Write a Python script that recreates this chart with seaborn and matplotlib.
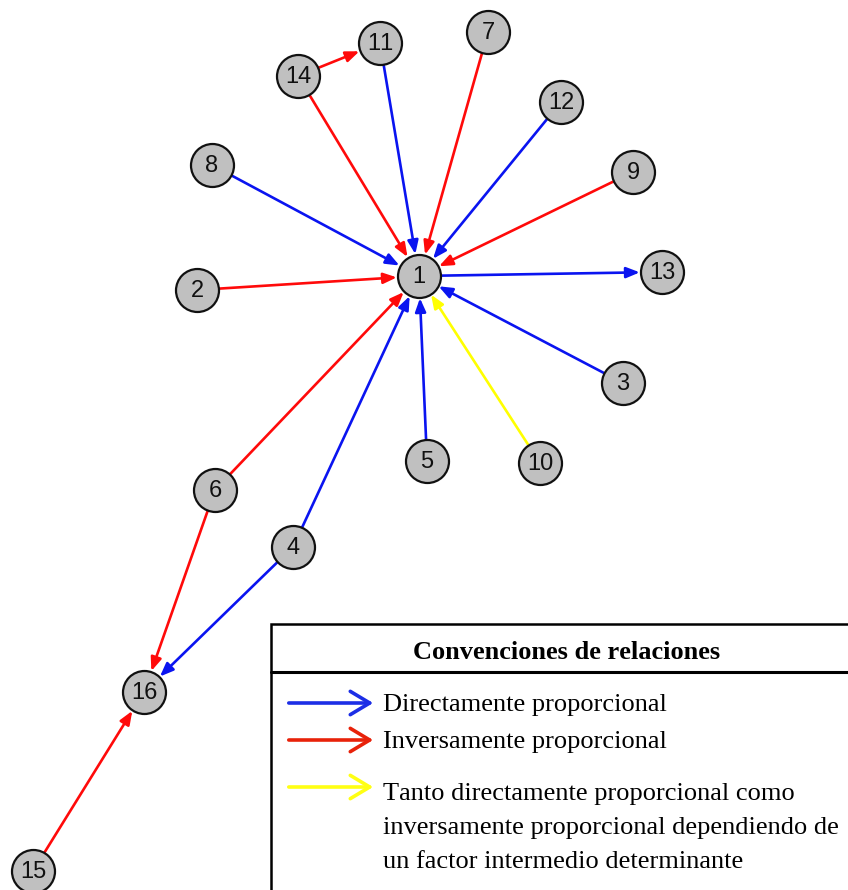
import matplotlib
matplotlib.use("Agg")
import matplotlib.pyplot as plt
import seaborn as sns
import pandas as pd
from matplotlib.patches import Rectangle, FancyArrowPatch

sns.set_theme(style="white")
plt.rcParams["text.kerning_factor"] = 6

# Nodes (positions, pixel-based layout coordinates)
node_ids = [1, 2, 3, 4, 5, 6, 7, 8, 9, 10, 11, 12, 13, 14, 15, 16]
node_x = [419, 197, 623, 293, 427, 215, 488, 212, 633, 540, 380, 561, 662, 298, 33, 144]
node_y = [276, 290, 383, 547, 461, 490, 32, 165, 172, 463, 43, 102, 272, 76, 871, 692]

# Edges: source -> target, relation type
edge_src = [8, 11, 14, 14, 7, 12, 9, 2, 1, 3, 10, 5, 4, 6, 6, 4, 15]
edge_dst = [1, 1, 1, 11, 1, 1, 1, 1, 13, 1, 1, 1, 1, 1, 16, 16, 16]
edge_type = ["D", "D", "I", "I", "I", "D", "I", "I", "D", "D", "T", "D", "D", "I", "I", "D", "I"]

type_colors = {"D": "#0a14f0", "I": "#ff0a0a", "T": "#ffff00"}

legend_title = "Convenciones de relaciones"
legend_types = ["D", "I", "T"]
legend_labels = [
    "Directamente proporcional",
    "Inversamente proporcional",
    "Tanto directamente proporcional como\ninversamente proporcional dependiendo de\nun factor intermedio determinante",
]
legend_colors = ["#1c2ee6", "#e8220a", "#ffff14"]

W, H = 848, 890
fig = plt.figure(figsize=(W / 100, H / 100), dpi=100)
ax = fig.add_axes([0, 0, 1, 1])
ax.set_xlim(0, W)
ax.set_ylim(H, 0)
ax.axis("off")

nodes = pd.DataFrame({"id": node_ids, "x": node_x, "y": node_y})
pos = {i: (x, y) for i, x, y in zip(node_ids, node_x, node_y)}

node_r_px = 21.5
node_r_pt = node_r_px * 0.72
for s, d, t in zip(edge_src, edge_dst, edge_type):
    ax.annotate(
        "", xy=pos[d], xytext=pos[s],
        arrowprops=dict(arrowstyle="-|>,head_length=0.8,head_width=0.32",
                        color=type_colors[t], lw=1.9, mutation_scale=10,
                        shrinkA=node_r_pt, shrinkB=node_r_pt + 0.5),
        zorder=1,
    )

sns.scatterplot(data=nodes, x="x", y="y", ax=ax, s=(2 * node_r_px * 0.72) ** 2,
                color="#c0c0c0", edgecolor="#111111", linewidth=1.6, zorder=2,
                legend=False)
for i, x, y in zip(node_ids, node_x, node_y):
    ax.text(x, y + 1, str(i), ha="center", va="center", fontsize=17,
            family="Liberation Sans", color="#111111", zorder=3)

# Legend box
bx0, by0 = 271, 624
ax.add_patch(Rectangle((bx0, by0), 600, 300, facecolor="white",
                       edgecolor="black", lw=1.8, zorder=4, clip_on=False))
ax.plot([bx0, 860], [672, 672], color="black", lw=2.2, zorder=5)
ax.text(567, 659, legend_title, ha="center", va="baseline", fontsize=19,
        fontweight="bold", family="Liberation Serif", color="black", zorder=5)

arrow_y = [703, 740, 787]
first_baseline = [711, 748, 800]
line_step = 34
for t, lab, c, ay, by in zip(legend_types, legend_labels, legend_colors, arrow_y, first_baseline):
    ax.add_patch(FancyArrowPatch((286, ay), (376, ay),
                                 arrowstyle="->,head_length=1.0,head_width=0.6",
                                 mutation_scale=14, color=c, lw=2.6, zorder=5))
    for k, line in enumerate(lab.split("\n")):
        ax.text(383, by + k * line_step, line, ha="left", va="baseline",
                fontsize=19, family="Liberation Serif", color="black", zorder=5)

fig.savefig("out.png", dpi=100)
